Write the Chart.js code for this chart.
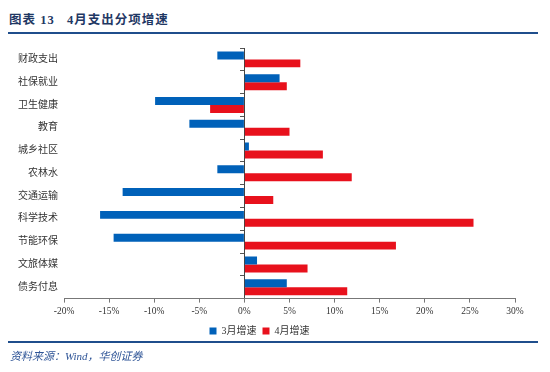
<!DOCTYPE html>
<html>
<head>
<meta charset="utf-8">
<script src="https://cdn.jsdelivr.net/npm/chart.js@4"></script>
<style>
  body { margin: 0; background: #fff; }
  #wrap { position: relative; width: 550px; height: 372px; overflow: hidden; }
  #title {
    position: absolute; left: 9px; top: 9px;
    font: bold 12.5px "Liberation Serif", "Noto Sans CJK SC", serif;
    color: #1f3864; letter-spacing: 1px;
  }
  .rule { position: absolute; left: 8px; width: 530px; height: 2px; background: #1f4e8c; }
  #source {
    position: absolute; left: 10px; top: 347px;
    font: italic 11px "Liberation Serif", "Noto Sans CJK SC", serif;
    color: #2f5597;
  }
  #box { position: absolute; left: 0; top: 36px; width: 550px; height: 310px; }
</style>
</head>
<body>
<div id="wrap">
  <div id="title">图表 13&nbsp;&nbsp;&nbsp;4月支出分项增速</div>
  <div class="rule" style="top:32px"></div>
  <div id="box"><canvas id="myChart" width="550" height="310"></canvas></div>
  <div class="rule" style="top:341px"></div>
  <div id="source">资料来源：Wind，华创证券</div>
</div>
<script>
let categories = [
  "财政支出", "社保就业", "卫生健康", "教育", "城乡社区", "农林水",
  "交通运输", "科学技术", "节能环保", "文旅体媒", "债务付息",
];
let march = [-3.0, 3.9, -9.9, -6.1, 0.5, -3.0, -13.5, -16.0, -14.5, 1.4, 4.7];
let april = [6.2, 4.7, -3.8, 5.0, 8.7, 11.9, 3.2, 25.4, 16.8, 7.0, 11.4];
let xTicks = [-20, -15, -10, -5, 0, 5, 10, 15, 20, 25, 30];

const serif = "'Liberation Serif', 'Noto Sans CJK SC', serif";
const ctx = document.getElementById("myChart");

new Chart(ctx, {
  type: "bar",
  data: {
    labels: categories,
    datasets: [
      { label: "3月增速", data: march, backgroundColor: "#0061b9" },
      { label: "4月增速", data: april, backgroundColor: "#e8111c" },
    ],
  },
  options: {
    indexAxis: "y",
    responsive: false,
    animation: false,
    maintainAspectRatio: false,
    layout: { padding: { top: 7, left: 4, right: 35, bottom: 0 } },
    datasets: { bar: { categoryPercentage: 0.7, barPercentage: 1 } },
    scales: {
      x: {
        min: xTicks[0],
        max: xTicks[xTicks.length - 1],
        afterBuildTicks: (s) => { s.ticks = xTicks.map((v) => ({ value: v })); },
        ticks: {
          callback: (v) => v + "%",
          color: "#333",
          font: { family: serif, size: 9.5 },
          padding: 3,
          maxRotation: 0,
          autoSkip: false,
        },
        grid: {
          color: (c) => (c.tick && c.tick.value === 0 ? "#444" : "rgba(0,0,0,0)"),
          tickColor: "#777",
          tickLength: 4,
        },
        border: { color: "#777" },
      },
      y: {
        position: "left",
        afterFit: (s) => { s.width = 60; },
        ticks: { color: "#333", font: { family: serif, size: 10 }, padding: 6, autoSkip: false },
        grid: { display: false, drawTicks: false },
        border: { display: false },
      },
      y2: {
        type: "category",
        position: { x: 0 },
        offset: true,
        ticks: { display: false, autoSkip: false },
        grid: { offset: true, drawOnChartArea: false, tickLength: 4, tickColor: "#555" },
        border: { display: false },
      },
    },
    plugins: {
      legend: {
        position: "bottom",
        labels: {
          boxWidth: 7,
          boxHeight: 7,
          padding: 6,
          color: "#333",
          font: { family: serif, size: 10 },
        },
      },
      tooltip: { enabled: false },
    },
  },
});
</script>
</body>
</html>
